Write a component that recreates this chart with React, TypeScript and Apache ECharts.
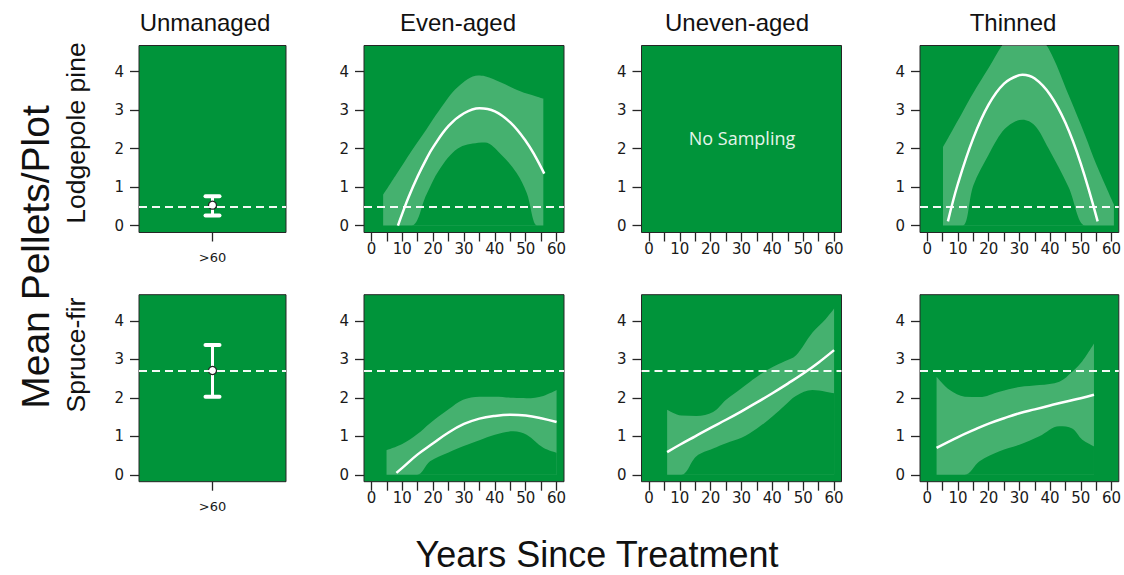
import React, { useEffect, useRef } from 'react';
import * as echarts from 'echarts';

// ---------- labels ----------
const columnTitles = ['Unmanaged', 'Even-aged', 'Uneven-aged', 'Thinned'];
const rowTitles = ['Lodgepole pine', 'Spruce-fir'];
const yAxisTitle = 'Mean Pellets/Plot';
const xAxisTitle = 'Years Since Treatment';
const noSamplingText = 'No Sampling';

// ---------- ticks ----------
const xTickValues = [0, 5, 10, 15, 20, 25, 30, 35, 40, 45, 50, 55, 60];
const xLabelValues = [0, 10, 20, 30, 40, 50, 60];
const yTickValues = [0, 1, 2, 3, 4];

// ---------- reference (unmanaged mean) per row ----------
const referenceMeans = [0.5, 2.7];
const unmanagedCategory = ['>60'];
const unmanagedMean = [0.53, 2.71];
const unmanagedLow = [0.26, 2.03];
const unmanagedHigh = [0.76, 3.37];

// ---------- Lodgepole pine / Even-aged ----------
const evenLPFitYears = [8.6, 10, 12, 15, 18, 20, 25, 30, 35, 40, 45, 50, 53, 56];
const evenLPFit = [0, 0.31, 0.73, 1.28, 1.76, 2.04, 2.59, 2.92, 3.05, 2.97, 2.68, 2.2, 1.81, 1.35];
const evenLPBandYears = [3.8, 8, 13, 17.8, 22, 28, 34.6, 36.8, 42, 47, 50.3, 53.7, 55.7];
const evenLPLower = [0, 0, 0, 0.8, 1.45, 2.0, 2.15, 2.16, 1.85, 1.37, 0.85, 0, 0];
const evenLPUpper = [0.8, 1.32, 1.94, 2.5, 3.0, 3.6, 3.9, 3.88, 3.72, 3.53, 3.43, 3.35, 3.3];

// ---------- Lodgepole pine / Thinned ----------
const thinLPFitYears = [6.7, 10, 15, 20, 25, 30, 31, 35, 40, 45, 50, 55.5];
const thinLPFit = [0.11, 1.1, 2.28, 3.15, 3.69, 3.91, 3.92, 3.82, 3.4, 2.67, 1.61, 0.11];
const thinLPBandYears = [5.1, 8, 11.5, 15, 20, 24.5, 28, 31, 35, 39.5, 46, 51.4, 55, 60.8];
const thinLPLower = [0, 0, 0, 1.05, 1.85, 2.45, 2.68, 2.75, 2.6, 2.0, 1.0, 0, 0, 0];
const thinLPUpper = [2.04, 2.45, 2.95, 3.45, 4.1, 4.7, 5.0, 5.1, 5.0, 4.6, 3.4, 2.35, 1.6, 0.55];

// ---------- Spruce-fir / Even-aged ----------
const evenSFFitYears = [8.1, 10, 15, 20, 25, 30, 35, 40, 45, 50, 55, 60];
const evenSFFit = [0.05, 0.18, 0.53, 0.82, 1.1, 1.32, 1.46, 1.53, 1.56, 1.54, 1.47, 1.37];
const evenSFBandYears = [4.9, 10, 14.8, 19, 25, 29.7, 35, 40, 46, 50.3, 55.7, 60];
const evenSFLower = [0, 0, 0, 0.35, 0.58, 0.74, 0.9, 1.04, 1.13, 1.04, 0.7, 0.57];
const evenSFUpper = [0.64, 0.8, 1.05, 1.34, 1.7, 1.95, 2.03, 2.03, 2.0, 1.99, 2.05, 2.2];

// ---------- Spruce-fir / Uneven-aged ----------
const unevenSFFitYears = [5.9, 10, 15, 20, 25, 30, 35, 40, 45, 50, 55, 60];
const unevenSFFit = [0.59, 0.78, 1.0, 1.22, 1.43, 1.65, 1.88, 2.12, 2.37, 2.63, 2.92, 3.24];
const unevenSFBandYears = [5.9, 10.5, 15.4, 20.8, 25, 30, 35, 40.1, 44, 47.6, 53, 57.3, 60];
const unevenSFLower = [0, 0, 0.48, 0.68, 0.82, 0.96, 1.2, 1.52, 1.8, 2.05, 2.2, 2.16, 2.12];
const unevenSFUpper = [1.69, 1.54, 1.53, 1.63, 1.95, 2.25, 2.55, 2.8, 2.95, 3.1, 3.7, 4.05, 4.32];

// ---------- Spruce-fir / Thinned ----------
const thinSFFitYears = [3, 10, 15, 20, 25, 30, 35, 40, 45, 50, 54.3];
const thinSFFit = [0.7, 0.98, 1.16, 1.33, 1.47, 1.6, 1.7, 1.8, 1.9, 1.99, 2.08];
const thinSFBandYears = [3, 7.3, 12.2, 17, 23.5, 30, 36.5, 43, 47.2, 50.5, 54.3];
const thinSFLower = [0, 0, 0, 0.35, 0.61, 0.78, 1.0, 1.26, 1.2, 0.91, 0.74];
const thinSFUpper = [2.55, 2.2, 2.03, 2.02, 2.16, 2.28, 2.33, 2.42, 2.68, 2.95, 3.41];

const GREEN = '#00943a';
const BAND = 'rgba(255,255,255,0.27)';
const BORDER = '#262626';
const TICK_FONT = 'DejaVu Sans';
const TITLE_FONT = 'Liberation Sans';
const TICK_TEXT = { fontSize: 15, color: '#1a1a1a', fontFamily: TICK_FONT };

const colLeft = [139, 364, 641.5, 920];
const colWidth = [147, 200, 200, 200];
const rowTop = [45.5, 294.7];
const rowHeight = 187;

type CurvePanel = {
  row: number; col: number;
  fitYears: number[]; fit: number[];
  bandYears: number[]; lower: number[]; upper: number[];
};

const curvePanels: CurvePanel[] = [
  { row: 0, col: 1, fitYears: evenLPFitYears, fit: evenLPFit, bandYears: evenLPBandYears, lower: evenLPLower, upper: evenLPUpper },
  { row: 0, col: 3, fitYears: thinLPFitYears, fit: thinLPFit, bandYears: thinLPBandYears, lower: thinLPLower, upper: thinLPUpper },
  { row: 1, col: 1, fitYears: evenSFFitYears, fit: evenSFFit, bandYears: evenSFBandYears, lower: evenSFLower, upper: evenSFUpper },
  { row: 1, col: 2, fitYears: unevenSFFitYears, fit: unevenSFFit, bandYears: unevenSFBandYears, lower: unevenSFLower, upper: unevenSFUpper },
  { row: 1, col: 3, fitYears: thinSFFitYears, fit: thinSFFit, bandYears: thinSFBandYears, lower: thinSFLower, upper: thinSFUpper },
];

function gridIndexOf(row: number, col: number) {
  return row * 4 + col;
}

function refMarkLine(value: number) {
  return {
    silent: true,
    symbol: 'none',
    label: { show: false },
    lineStyle: { type: [8, 5], color: '#ffffff', width: 1.8, opacity: 0.95 },
    emphasis: { disabled: true },
    data: [{ yAxis: value }],
  };
}

function buildOption() {
  const grids: any[] = [];
  const xAxes: any[] = [];
  const yAxes: any[] = [];
  const series: any[] = [];

  for (let row = 0; row < 2; row++) {
    for (let col = 0; col < 4; col++) {
      grids.push({
        left: colLeft[col],
        top: rowTop[row],
        width: colWidth[col],
        height: rowHeight,
        show: true,
        backgroundColor: GREEN,
        borderColor: BORDER,
        borderWidth: 1,
        containLabel: false,
      });
      const gi = gridIndexOf(row, col);
      if (col === 0) {
        xAxes.push({
          type: 'category',
          gridIndex: gi,
          data: unmanagedCategory,
          boundaryGap: true,
          axisLine: { show: false, onZero: false },
          axisTick: { show: true, alignWithLabel: true, length: 9, lineStyle: { color: BORDER, width: 1.3 } },
          axisLabel: { ...TICK_TEXT, margin: 18, fontSize: 13 },
          splitLine: { show: false },
        });
      } else {
        xAxes.push({
          type: 'value',
          gridIndex: gi,
          min: -2.4,
          max: 62.4,
          axisLine: { show: false, onZero: false },
          axisTick: { show: true, length: 9, customValues: xTickValues, lineStyle: { color: BORDER, width: 1.3 } },
          axisLabel: { ...TICK_TEXT, customValues: xLabelValues, margin: 9 },
          splitLine: { show: false },
        });
      }
      yAxes.push({
        type: 'value',
        gridIndex: gi,
        min: -0.18,
        max: 4.68,
        axisLine: { show: false, onZero: false },
        axisTick: { show: true, length: 9, customValues: yTickValues, lineStyle: { color: BORDER, width: 1.3 } },
        axisLabel: { ...TICK_TEXT, customValues: yTickValues, margin: 15 },
        splitLine: { show: false },
      });
    }
  }

  // Unmanaged error bars
  for (let row = 0; row < 2; row++) {
    const gi = gridIndexOf(row, 0);
    series.push({
      type: 'line',
      xAxisIndex: gi,
      yAxisIndex: gi,
      data: [[0, unmanagedMean[row]]],
      symbol: 'none',
      lineStyle: { opacity: 0 },
      silent: true,
      markLine: refMarkLine(referenceMeans[row]),
    });
    series.push({
      type: 'custom',
      xAxisIndex: gi,
      yAxisIndex: gi,
      silent: true,
      data: [[0, unmanagedMean[row], unmanagedLow[row], unmanagedHigh[row]]],
      renderItem: (params: any, api: any) => {
        const c = api.coord([api.value(0), api.value(1)]);
        const lo = api.coord([api.value(0), api.value(2)]);
        const hi = api.coord([api.value(0), api.value(3)]);
        const half = 7;
        return {
          type: 'group',
          children: [
            { type: 'line', shape: { x1: c[0], y1: lo[1], x2: c[0], y2: hi[1] }, style: { stroke: '#fff', lineWidth: 3 } },
            { type: 'line', shape: { x1: c[0] - half, y1: hi[1], x2: c[0] + half, y2: hi[1] }, style: { stroke: '#fff', lineWidth: 4, lineCap: 'round' } },
            { type: 'line', shape: { x1: c[0] - half, y1: lo[1], x2: c[0] + half, y2: lo[1] }, style: { stroke: '#fff', lineWidth: 4, lineCap: 'round' } },
            { type: 'circle', shape: { cx: c[0], cy: c[1], r: 4 }, style: { fill: '#fff', stroke: '#222', lineWidth: 1.2 } },
          ],
        };
      },
    });
  }

  // Uneven-aged Lodgepole: no sampling (empty series keeps the grid alive)
  {
    const gi = gridIndexOf(0, 2);
    series.push({ type: 'line', xAxisIndex: gi, yAxisIndex: gi, data: [], symbol: 'none' });
  }

  // Curve panels
  curvePanels.forEach((p) => {
    const gi = gridIndexOf(p.row, p.col);
    series.push({
      type: 'line',
      xAxisIndex: gi,
      yAxisIndex: gi,
      data: p.bandYears.map((x, i) => [x, p.upper[i]]),
      smooth: 0.35,
      symbol: 'none',
      silent: true,
      lineStyle: { opacity: 0 },
      areaStyle: { color: BAND, origin: 0, opacity: 1 },
      clip: true,
    });
    series.push({
      type: 'line',
      xAxisIndex: gi,
      yAxisIndex: gi,
      data: p.bandYears.map((x, i) => [x, p.lower[i]]),
      smooth: 0.35,
      symbol: 'none',
      silent: true,
      lineStyle: { opacity: 0 },
      areaStyle: { color: GREEN, origin: 0, opacity: 1 },
      clip: true,
    });
    series.push({
      type: 'line',
      xAxisIndex: gi,
      yAxisIndex: gi,
      data: p.fitYears.map((x, i) => [x, p.fit[i]]),
      smooth: 0.4,
      symbol: 'none',
      silent: true,
      lineStyle: { color: '#ffffff', width: 2.5 },
      clip: true,
      markLine: refMarkLine(referenceMeans[p.row]),
    });
  });

  const titleX = [205, 458, 737, 1013];
  const rowLabelY = [133, 355];

  const graphic: any[] = [];
  columnTitles.forEach((t, i) => {
    graphic.push({
      type: 'text', x: titleX[i], y: 22, silent: true,
      style: { text: t, fill: '#111', font: `24px "${TITLE_FONT}"`, textAlign: 'center', textVerticalAlign: 'middle' },
    });
  });
  rowTitles.forEach((t, i) => {
    graphic.push({
      type: 'text', x: 76, y: rowLabelY[i], rotation: Math.PI / 2, silent: true,
      style: { text: t, fill: '#111', font: `26.5px "${TITLE_FONT}"`, textAlign: 'center', textVerticalAlign: 'middle' },
    });
  });
  graphic.push({
    type: 'text', x: 35, y: 257, rotation: Math.PI / 2, silent: true,
    style: { text: yAxisTitle, fill: '#111', font: `39px "${TITLE_FONT}"`, textAlign: 'center', textVerticalAlign: 'middle' },
  });
  graphic.push({
    type: 'text', x: 597, y: 554, silent: true,
    style: { text: xAxisTitle, fill: '#111', font: `36px "${TITLE_FONT}"`, textAlign: 'center', textVerticalAlign: 'middle' },
  });
  graphic.push({
    type: 'text', x: 742, y: 138, silent: true, z: 10,
    style: { text: noSamplingText, fill: '#e6f4ea', font: `18px "Open Sans"`, textAlign: 'center', textVerticalAlign: 'middle' },
  });

  return {
    animation: false,
    backgroundColor: '#ffffff',
    grid: grids,
    xAxis: xAxes,
    yAxis: yAxes,
    series,
    graphic,
  };
}

export default function App() {
  const ref = useRef<HTMLDivElement | null>(null);
  useEffect(() => {
    if (!ref.current) return;
    const chart = echarts.init(ref.current, undefined, { renderer: 'svg' });
    chart.setOption(buildOption() as any);
    return () => {
      chart.dispose();
    };
  }, []);
  return (
    <div
      ref={ref}
      style={{ position: 'absolute', left: 0, top: 0, width: 1124, height: 575 }}
    />
  );
}
